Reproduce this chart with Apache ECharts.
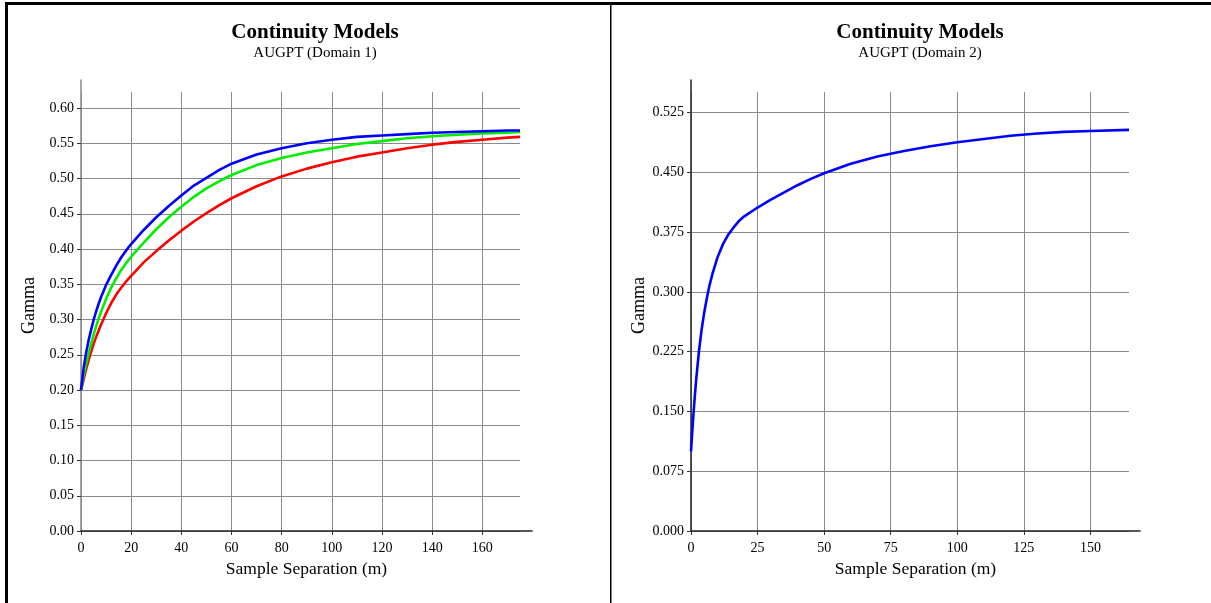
<!DOCTYPE html>
<html lang="en">
<head>
    <meta charset="UTF-8">
    <title>Continuity Models</title>
    <script src="https://cdn.jsdelivr.net/npm/echarts@6/dist/echarts.min.js"></script>
    <style>
        html, body { margin: 0; padding: 0; background: #fff; }
        #chart-container { width: 1211px; height: 603px; }
    </style>
</head>
<body>
    <div id="chart-container"></div>
    <script>
        // Domain 1: separation (m) and three model curves
        var sep1 = [0, 1, 2, 3, 4, 5, 6, 7, 8, 10, 12, 14, 16, 18, 20, 25, 30, 35, 40, 45, 50, 55, 60, 70, 80, 90, 100, 110, 120, 130, 140, 150, 160, 170, 175];
        var blue1 = [0.200, 0.230, 0.252, 0.270, 0.285, 0.299, 0.311, 0.322, 0.332, 0.349, 0.363, 0.376, 0.388, 0.398, 0.407, 0.427, 0.445, 0.461, 0.476, 0.490, 0.501, 0.512, 0.521, 0.534, 0.543, 0.550, 0.555, 0.559, 0.561, 0.563, 0.565, 0.566, 0.567, 0.568, 0.568];
        var green1 = [0.200, 0.220, 0.236, 0.251, 0.265, 0.278, 0.290, 0.301, 0.311, 0.329, 0.345, 0.358, 0.370, 0.380, 0.389, 0.409, 0.428, 0.445, 0.460, 0.474, 0.486, 0.496, 0.505, 0.519, 0.529, 0.537, 0.543, 0.549, 0.553, 0.557, 0.560, 0.562, 0.564, 0.565, 0.566];
        var red1 = [0.200, 0.214, 0.229, 0.242, 0.254, 0.265, 0.275, 0.284, 0.293, 0.309, 0.323, 0.335, 0.345, 0.354, 0.362, 0.381, 0.397, 0.412, 0.426, 0.439, 0.451, 0.462, 0.472, 0.489, 0.503, 0.514, 0.523, 0.531, 0.537, 0.543, 0.548, 0.552, 0.555, 0.558, 0.559];

        // Domain 2: single model curve
        var sep2 = [0, 0.5, 1, 1.5, 2, 3, 4, 5, 6, 7, 8, 10, 12, 14, 16, 18, 20, 25, 30, 35, 40, 45, 50, 55, 60, 70, 80, 90, 100, 110, 120, 130, 140, 150, 164.5];
        var blue2 = [0.100, 0.126, 0.150, 0.172, 0.192, 0.226, 0.253, 0.275, 0.293, 0.309, 0.322, 0.344, 0.360, 0.372, 0.381, 0.389, 0.395, 0.406, 0.416, 0.425, 0.434, 0.442, 0.449, 0.455, 0.461, 0.470, 0.477, 0.483, 0.488, 0.492, 0.496, 0.499, 0.501, 0.502, 0.5035];

        // tick labels
        var xTicks1 = [0, 20, 40, 60, 80, 100, 120, 140, 160];
        var yTicks1 = [0, 0.05, 0.10, 0.15, 0.20, 0.25, 0.30, 0.35, 0.40, 0.45, 0.50, 0.55, 0.60];
        var xTicks2 = [0, 25, 50, 75, 100, 125, 150];
        var yTicks2 = [0, 0.075, 0.150, 0.225, 0.300, 0.375, 0.450, 0.525];

        function pairs(xs, ys) {
            return xs.map(function (x, i) { return [x, ys[i]]; });
        }

        var font = 'Liberation Serif';
        var gridColor = '#8a8a8a';

        function dataX(idx, max, ticks) {
            return {
                gridIndex: idx, type: 'value', min: 0, max: max,
                axisLine: { show: false },
                axisTick: { show: true, inside: false, length: 4, customValues: ticks, lineStyle: { color: '#333' } },
                axisLabel: { customValues: ticks, margin: 10, color: '#000', fontFamily: font, fontSize: 14 },
                splitLine: { show: true, lineStyle: { color: gridColor, width: 1 } }
            };
        }
        function dataY(idx, max, ticks, digits) {
            return {
                gridIndex: idx, type: 'value', min: 0, max: max,
                axisLine: { show: false },
                axisTick: { show: true, inside: false, length: 4, customValues: ticks, lineStyle: { color: '#333' } },
                axisLabel: {
                    customValues: ticks, margin: 7, color: '#000', fontFamily: font, fontSize: 14,
                    formatter: function (v) { return v.toFixed(digits); }
                },
                splitLine: { show: true, lineStyle: { color: gridColor, width: 1 } }
            };
        }
        // outer frame axes: only the (slightly longer) axis lines and the names
        function frameX(idx, color) {
            return {
                gridIndex: idx, type: 'value', min: 0, max: 1,
                name: 'Sample Separation (m)', nameLocation: 'middle', nameGap: 29,
                nameTextStyle: { color: '#000', fontFamily: font, fontSize: 17.5 },
                axisLine: { show: true, lineStyle: { color: color, width: 1.5 } },
                axisTick: { show: false }, axisLabel: { show: false }, splitLine: { show: false }
            };
        }
        function frameY(idx, color) {
            return {
                gridIndex: idx, type: 'value', min: 0, max: 1,
                name: 'Gamma', nameLocation: 'middle', nameGap: 43,
                nameTextStyle: { color: '#000', fontFamily: font, fontSize: 18 },
                axisLine: { show: true, lineStyle: { color: color, width: 1.5 } },
                axisTick: { show: false }, axisLabel: { show: false }, splitLine: { show: false }
            };
        }
        function curve(idx, data, color) {
            return {
                type: 'line', xAxisIndex: idx, yAxisIndex: idx, data: data,
                showSymbol: false, smooth: false,
                lineStyle: { color: color, width: 2.6, join: 'round' }, z: 5, animation: false
            };
        }

        var myChart = echarts.init(document.getElementById('chart-container'), null, { renderer: 'canvas' });

        var option = {
            backgroundColor: '#fff',
            animation: false,
            title: [{
                text: 'Continuity Models', subtext: 'AUGPT (Domain 1)',
                left: 310, top: 17, textAlign: 'center', itemGap: 3,
                textStyle: { color: '#000', fontFamily: font, fontSize: 21, fontWeight: 'bold' },
                subtextStyle: { color: '#000', fontFamily: font, fontSize: 15 }
            }, {
                text: 'Continuity Models', subtext: 'AUGPT (Domain 2)',
                left: 915, top: 17, textAlign: 'center', itemGap: 3,
                textStyle: { color: '#000', fontFamily: font, fontSize: 21, fontWeight: 'bold' },
                subtextStyle: { color: '#000', fontFamily: font, fontSize: 15 }
            }],
            grid: [
                { left: 81, top: 92, width: 439, height: 439 },
                { left: 81, top: 80, width: 451, height: 451 },
                { left: 691, top: 92, width: 438, height: 439 },
                { left: 691, top: 80, width: 449, height: 451 }
            ],
            xAxis: [
                dataX(0, 175, xTicks1),
                frameX(1, '#222'),
                dataX(2, 164.5, xTicks2),
                frameX(3, '#222')
            ],
            yAxis: [
                dataY(0, 0.6227, yTicks1, 2),
                frameY(1, '#8a8a8a'),
                dataY(2, 0.551, yTicks2, 3),
                frameY(3, '#222')
            ],
            series: [
                curve(0, pairs(sep1, red1), '#ff0000'),
                curve(0, pairs(sep1, green1), '#00ee00'),
                curve(0, pairs(sep1, blue1), '#0000ff'),
                curve(2, pairs(sep2, blue2), '#0000ff')
            ],
            graphic: [
                { type: 'rect', shape: { x: 5, y: 2, width: 1206, height: 3 }, style: { fill: '#000' } },
                { type: 'rect', shape: { x: 5, y: 2, width: 3, height: 601 }, style: { fill: '#000' } },
                { type: 'rect', shape: { x: 610, y: 2, width: 1.5, height: 601 }, style: { fill: '#000' } }
            ]
        };

        myChart.setOption(option);

        window.addEventListener('resize', function () {
            myChart.resize();
        });
    </script>
</body>
</html>
